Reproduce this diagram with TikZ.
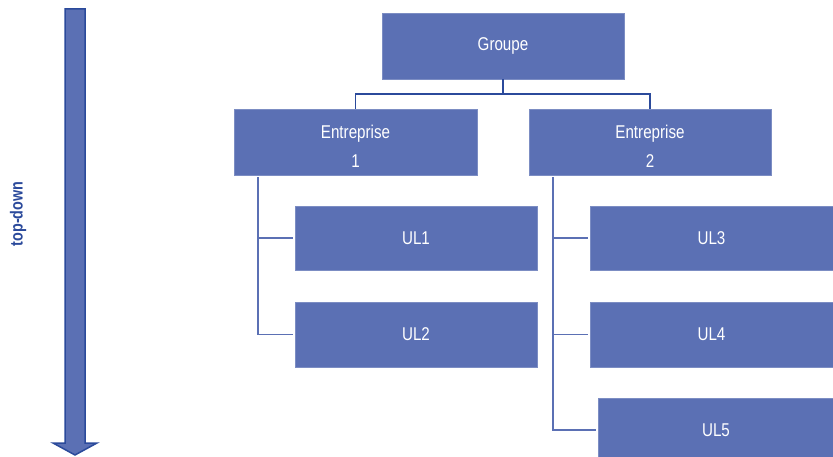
\documentclass[tikz,border=0pt]{standalone}
\usepackage{fontspec}
\setmainfont{Liberation Sans}[FakeStretch=0.82]
\definecolor{boxblue}{RGB}{91,112,180}
\definecolor{darkblue}{RGB}{43,74,155}
\begin{document}
\begin{tikzpicture}[x=1pt,y=-1pt,
  box/.style={fill=boxblue,draw=boxblue!80!white,line width=0.6pt,text=white,font=\fontsize{18.5}{29}\selectfont,align=center,inner sep=0pt},
  topline/.style={draw=darkblue,line width=1.6pt},
  sideline/.style={draw=boxblue,line width=1.6pt}]
\useasboundingbox (0,0) rectangle (833,457);
% vertical arrow
\fill[boxblue,draw=darkblue,line width=1.5pt,line join=miter]
  (65,9) -- (85,9) -- (85,443) -- (97,443) -- (75,455) -- (53,443) -- (65,443) -- cycle;
\node[rotate=90,text=darkblue,font=\fontsize{17.5}{20}\bfseries\selectfont] (lbl) at (18,214) {top-down};
% boxes
\node[box,minimum width=242,minimum height=66] (g) at (503,46) {Groupe};
\node[box,minimum width=243,minimum height=66] (e1) at (355.5,142) {\rule{0pt}{22pt}Entreprise\\1};
\node[box,minimum width=242,minimum height=66] (e2) at (650,142) {\rule{0pt}{22pt}Entreprise\\2};
\node[box,minimum width=242,minimum height=64] (ul1) at (416,238) {UL1};
\node[box,minimum width=242,minimum height=65] (ul2) at (416,334.5) {UL2};
\node[box,minimum width=243,minimum height=64] (ul3) at (711.5,238) {UL3};
\node[box,minimum width=243,minimum height=65] (ul4) at (711.5,334.5) {UL4};
\node[box,minimum width=236,minimum height=64] (ul5) at (716,430) {UL5};
% connectors
\draw[topline] (g.south) -- ++(0,15) -| (e1.north);
\draw[topline] (g.south) ++(0,15) -| (e2.north);
\draw[sideline] ([xshift=24pt,yshift=-2pt]e1.south west) |- ([xshift=-2pt]ul1.west);
\draw[sideline] ([xshift=24pt,yshift=-2pt]e1.south west) |- ([xshift=-2pt]ul2.west);
\draw[sideline] ([xshift=24pt,yshift=-2pt]e2.south west) |- ([xshift=-2pt]ul3.west);
\draw[sideline] ([xshift=24pt,yshift=-2pt]e2.south west) |- ([xshift=-2pt]ul4.west);
\draw[sideline] ([xshift=24pt,yshift=-2pt]e2.south west) |- ([xshift=-2pt]ul5.west);
\end{tikzpicture}
\end{document}
